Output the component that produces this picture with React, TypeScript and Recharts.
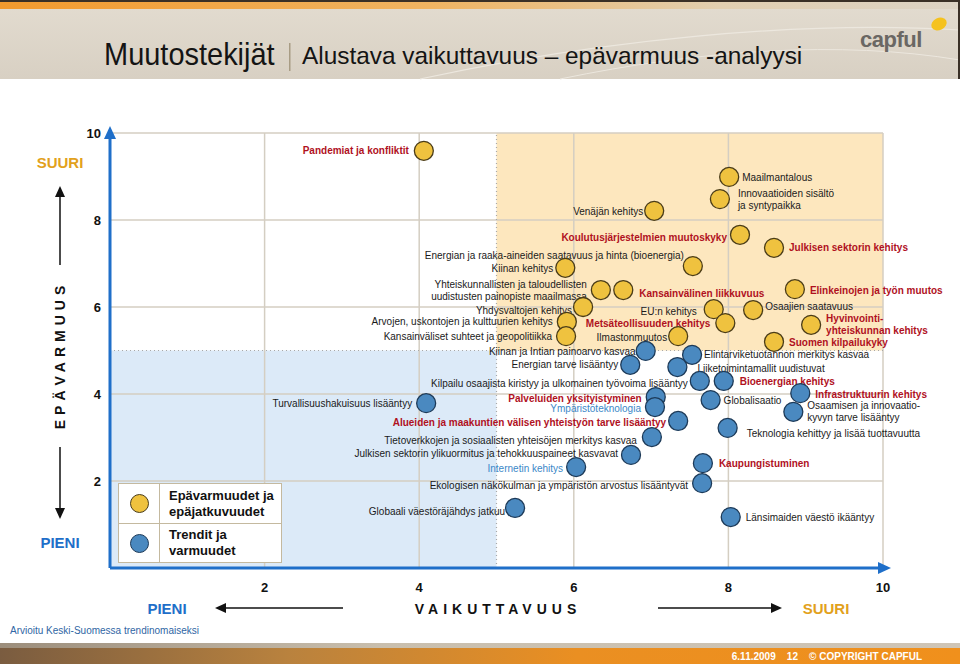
import React from 'react'
import {
	ScatterChart,
	Scatter,
	XAxis,
	YAxis,
	ReferenceArea,
	ReferenceLine,
} from 'recharts'

/**
 * Muutostekijät: vaikuttavuus (x) vs. epävarmuus (y) -analyysi
 */

// Epävarmuudet ja epäjatkuvuudet (keltaiset pallot)
const uncertaintyNames = [
	'Pandemiat ja konfliktit',
	'Maailmantalous',
	'Innovaatioiden sisältö\nja syntypaikka',
	'Venäjän kehitys',
	'Koulutusjärjestelmien muutoskyky',
	'Julkisen sektorin kehitys',
	'Energian ja raaka-aineiden saatavuus ja hinta (bioenergia)',
	'Kiinan kehitys',
	'Yhteiskunnallisten ja taloudellisten\nuudistusten painopiste maailmassa',
	'Kansainvälinen liikkuvuus',
	'Elinkeinojen ja työn muutos',
	'Yhdysvaltojen kehitys',
	'EU:n kehitys',
	'Osaajien saatavuus',
	'Arvojen, uskontojen ja kulttuurien kehitys',
	'Metsäteollisuuden kehitys',
	'Hyvinvointi-\nyhteiskunnan kehitys',
	'Kansainväliset suhteet ja geopolitiikka',
	'Ilmastonmuutos',
	'Suomen kilpailukyky',
]
const uncertaintyImpact = [
	4.06, 8.01, 7.89, 7.04, 8.15, 8.59, 7.54, 5.89, 6.35, 6.64, 8.86, 6.12, 7.81,
	8.32, 5.91, 7.96, 9.07, 5.9, 7.35, 8.59,
]
const uncertaintyLevel = [
	9.59, 8.99, 8.48, 8.21, 7.66, 7.36, 6.94, 6.9, 6.39, 6.39, 6.41, 6.0, 5.95,
	5.93, 5.66, 5.63, 5.59, 5.33, 5.33, 5.2,
]

// Trendit ja varmuudet (siniset pallot)
const trendNames = [
	'Kiinan ja Intian painoarvo kasvaa',
	'Elintarviketuotannon merkitys kasvaa',
	'Energian tarve lisääntyy',
	'Liiketoimintamallit uudistuvat',
	'Kilpailu osaajista kiristyy ja ulkomainen työvoima lisääntyy',
	'Bioenergian kehitys',
	'Turvallisuushakuisuus lisääntyy',
	'Palveluiden yksityistyminen',
	'Infrastruktuurin kehitys',
	'Ympäristöteknologia',
	'Globalisaatio',
	'Osaamisen ja innovaatio-\nkyvyn tarve lisääntyy',
	'Alueiden ja maakuntien välisen yhteistyön tarve lisääntyy',
	'Teknologia kehittyy ja lisää tuottavuutta',
	'Tietoverkkojen ja sosiaalisten yhteisöjen merkitys kasvaa',
	'Julkisen sektorin ylikuormitus ja tehokkuuspaineet kasvavat',
	'Internetin kehitys',
	'Kaupungistuminen',
	'Ekologisen näkökulman ja ympäristön arvostus lisääntyvät',
	'Globaali väestöräjähdys jatkuu',
	'Länsimaiden väestö ikääntyy',
]
const trendImpact = [
	6.93, 7.53, 6.73, 7.34, 7.63, 7.94, 4.09, 7.06, 8.93, 7.05, 7.77, 8.84, 7.35,
	7.99, 7.01, 6.74, 6.03, 7.67, 7.66, 5.24, 8.03,
]
const trendLevel = [
	4.99, 4.9, 4.67, 4.62, 4.3, 4.3, 3.79, 3.93, 4.02, 3.7, 3.86, 3.59, 3.38,
	3.22, 3.01, 2.6, 2.32, 2.41, 1.95, 1.38, 1.17,
]

const axisTicks = [2, 4, 6, 8, 10]

// Punaisella lihavoidut ja sinisellä kirjoitetut nimet
const redLabels = [
	'Pandemiat ja konfliktit',
	'Koulutusjärjestelmien muutoskyky',
	'Julkisen sektorin kehitys',
	'Kansainvälinen liikkuvuus',
	'Elinkeinojen ja työn muutos',
	'Metsäteollisuuden kehitys',
	'Hyvinvointi-\nyhteiskunnan kehitys',
	'Suomen kilpailukyky',
	'Bioenergian kehitys',
	'Palveluiden yksityistyminen',
	'Infrastruktuurin kehitys',
	'Alueiden ja maakuntien välisen yhteistyön tarve lisääntyy',
	'Kaupungistuminen',
]
const blueLabels = ['Ympäristöteknologia', 'Internetin kehitys']

// Tekstin paikka pallon suhteen: [puoli, dx, dy]
const labelPlacement: Record<string, [string, number, number]> = {
	'Pandemiat ja konfliktit': ['L', -15, 0],
	Maailmantalous: ['R', 13, 0],
	'Innovaatioiden sisältö\nja syntypaikka': ['R', 18, 0],
	'Venäjän kehitys': ['L', -11, 1],
	'Koulutusjärjestelmien muutoskyky': ['L', -13, 3],
	'Julkisen sektorin kehitys': ['R', 15, 0],
	'Energian ja raaka-aineiden saatavuus ja hinta (bioenergia)': ['L', -9, -11],
	'Kiinan kehitys': ['L', -12, 1],
	'Yhteiskunnallisten ja taloudellisten\nuudistusten painopiste maailmassa': ['L', -14, 0],
	'Kansainvälinen liikkuvuus': ['R', 16, 3],
	'Elinkeinojen ja työn muutos': ['R', 15, 1],
	'Yhdysvaltojen kehitys': ['L', -11, 3],
	'EU:n kehitys': ['L', -17, 2],
	'Osaajien saatavuus': ['R', 12, -4],
	'Arvojen, uskontojen ja kulttuurien kehitys': ['L', -14, 0],
	'Metsäteollisuuden kehitys': ['L', -15, 0],
	'Hyvinvointi-\nyhteiskunnan kehitys': ['R', 15, 0],
	'Kansainväliset suhteet ja geopolitiikka': ['L', -14, 0],
	Ilmastonmuutos: ['L', -11, 1],
	'Suomen kilpailukyky': ['R', 15, 1],
	'Kiinan ja Intian painoarvo kasvaa': ['L', -10, 0],
	'Elintarviketuotannon merkitys kasvaa': ['R', 12, 0],
	'Energian tarve lisääntyy': ['L', -12, 0],
	'Liiketoimintamallit uudistuvat': ['R', 20, 1],
	'Kilpailu osaajista kiristyy ja ulkomainen työvoima lisääntyy': ['L', -12, 2],
	'Bioenergian kehitys': ['R', 16, 0],
	'Turvallisuushakuisuus lisääntyy': ['L', -14, 0],
	'Palveluiden yksityistyminen': ['L', -14, 1],
	'Infrastruktuurin kehitys': ['R', 15, 1],
	Ympäristöteknologia: ['L', -14, 1],
	Globalisaatio: ['R', 13, 0],
	'Osaamisen ja innovaatio-\nkyvyn tarve lisääntyy': ['R', 14, 0],
	'Alueiden ja maakuntien välisen yhteistyön tarve lisääntyy': ['L', -12, 1],
	'Teknologia kehittyy ja lisää tuottavuutta': ['R', 19, 5],
	'Tietoverkkojen ja sosiaalisten yhteisöjen merkitys kasvaa': ['L', -15, 3],
	'Julkisen sektorin ylikuormitus ja tehokkuuspaineet kasvavat': ['L', -13, -2],
	'Internetin kehitys': ['L', -13, 1],
	Kaupungistuminen: ['R', 16, 0],
	'Ekologisen näkökulman ja ympäristön arvostus lisääntyvät': ['L', -14, 2],
	'Globaali väestöräjähdys jatkuu': ['L', -10, 3],
	'Länsimaiden väestö ikääntyy': ['R', 15, 0],
}

const uncertaintyData = uncertaintyNames.map((name, i) => ({
	name,
	x: uncertaintyImpact[i],
	y: uncertaintyLevel[i],
}))
const trendData = trendNames.map((name, i) => ({
	name,
	x: trendImpact[i],
	y: trendLevel[i],
}))

const BLUE_AXIS = '#1f6fc9'
const GRID = '#d4cec2'
const FONT = '"Liberation Sans", Arial, sans-serif'

const YELLOW = { fill: '#efc23f', stroke: '#4a3c18' }
const BLUE = { fill: '#4a89c0', stroke: '#1d3a58' }

function PointLabel({ cx, cy, name }: { cx: number; cy: number; name: string }) {
	const place = labelPlacement[name] || ['R', 14, 0]
	const [side, dx, dy] = place
	const isRed = redLabels.includes(name)
	const isBlue = blueLabels.includes(name)
	const lines = name.split('\n')
	const first = cy + dy - (lines.length - 1) * 6 + 3.6
	return (
		<text
			x={cx + dx}
			y={first}
			textAnchor={side === 'L' ? 'end' : 'start'}
			fontSize={10}
			fontWeight={isRed ? 'bold' : 'normal'}
			fill={isRed ? '#b0111e' : isBlue ? '#3b88c8' : '#1a1a1a'}
			style={{ fontFamily: FONT }}
		>
			{lines.map((line, i) => (
				<tspan key={i} x={cx + dx} dy={i === 0 ? 0 : 12}>
					{line}
				</tspan>
			))}
		</text>
	)
}

function makeMarker(colors: { fill: string; stroke: string }) {
	return (props: any) => {
		const { cx, cy, payload } = props
		if (cx == null || cy == null) return <g />
		return (
			<g>
				<circle cx={cx} cy={cy} r={9.5} fill={colors.fill} stroke={colors.stroke} strokeWidth={1.3} />
				<PointLabel cx={cx} cy={cy} name={payload.name} />
			</g>
		)
	}
}

function Header() {
	return (
		<svg width={960} height={80} style={{ position: 'absolute', left: 0, top: 0 }}>
			<defs>
				<linearGradient id="banner" x1="0" y1="0" x2="0" y2="1">
					<stop offset="0%" stopColor="#e3dcd0" />
					<stop offset="100%" stopColor="#d8d0c3" />
				</linearGradient>
				<linearGradient id="stripe" x1="0" y1="0" x2="1" y2="0">
					<stop offset="0%" stopColor="#f29a2e" />
					<stop offset="45%" stopColor="#f0b462" />
					<stop offset="75%" stopColor="#e2cfb0" />
					<stop offset="100%" stopColor="#dcd3c4" />
				</linearGradient>
			</defs>
			<rect x={0} y={0} width={960} height={79} fill="url(#banner)" />
			<path d="M 420 79 C 600 40, 800 20, 960 30" fill="none" stroke="#ece7de" strokeWidth={1.2} />
			<path d="M 560 79 C 700 50, 840 40, 960 60" fill="none" stroke="#ece7de" strokeWidth={1} />
			<rect x={0} y={0} width={960} height={2} fill="#3a3026" />
			<rect x={0} y={2} width={960} height={7} fill="url(#stripe)" />
			<rect x={958} y={0} width={2} height={79} fill="#3a3026" />
			<text
				x={0}
				y={0}
				transform="translate(104,65) scale(0.95,1)"
				fontSize={30.5}
				fill="#141414"
				style={{ fontFamily: FONT }}
			>
				Muutostekijät
			</text>
			<rect x={289} y={43} width={1.5} height={28} fill="#a89c84" />
			<text x={302} y={64} fontSize={24.4} fill="#141414" style={{ fontFamily: FONT }}>
				Alustava vaikuttavuus – epävarmuus -analyysi
			</text>
			<text
				x={860}
				y={47}
				fontSize={22}
				fontWeight="bold"
				fill="#6a6763"
				letterSpacing={-0.5}
				style={{ fontFamily: FONT }}
			>
				capful
			</text>
			<ellipse cx={939} cy={24} rx={8} ry={6} fill="#f5c21e" transform="rotate(-25 939 24)" />
		</svg>
	)
}

function Decorations() {
	return (
		<svg
			width={960}
			height={664}
			style={{ position: 'absolute', left: 0, top: 0, pointerEvents: 'none' }}
		>
			{/* axis arrow heads */}
			<polygon points="110,126 104,139 116,139" fill={BLUE_AXIS} />
			<polygon points="891,568 878,562 878,574" fill={BLUE_AXIS} />

			{/* vertical axis title */}
			<text x={60} y={168} textAnchor="middle" fontSize={15} fontWeight="bold" fill="#e2a11c" style={{ fontFamily: FONT }}>
				SUURI
			</text>
			<line x1={60} y1={265} x2={60} y2={196} stroke="#111" strokeWidth={1.5} />
			<polygon points="60,186 55,197 65,197" fill="#111" />
			<text
				x={0}
				y={0}
				transform="translate(65,355) rotate(-90)"
				textAnchor="middle"
				fontSize={14}
				fontWeight="bold"
				letterSpacing={5}
				fill="#111"
				style={{ fontFamily: FONT }}
			>
				EPÄVARMUUS
			</text>
			<line x1={60} y1={447} x2={60} y2={509} stroke="#111" strokeWidth={1.5} />
			<polygon points="60,519 55,508 65,508" fill="#111" />
			<text x={60} y={548} textAnchor="middle" fontSize={15} fontWeight="bold" fill={BLUE_AXIS} style={{ fontFamily: FONT }}>
				PIENI
			</text>

			{/* horizontal axis title */}
			<text x={167} y={614} textAnchor="middle" fontSize={15} fontWeight="bold" fill={BLUE_AXIS} style={{ fontFamily: FONT }}>
				PIENI
			</text>
			<line x1={343} y1={608} x2={225} y2={608} stroke="#111" strokeWidth={1.5} />
			<polygon points="215,608 226,603 226,613" fill="#111" />
			<text
				x={498}
				y={614}
				textAnchor="middle"
				fontSize={14}
				fontWeight="bold"
				letterSpacing={5}
				fill="#111"
				style={{ fontFamily: FONT }}
			>
				VAIKUTTAVUUS
			</text>
			<line x1={658} y1={608} x2={772} y2={608} stroke="#111" strokeWidth={1.5} />
			<polygon points="782,608 771,603 771,613" fill="#111" />
			<text x={826} y={614} textAnchor="middle" fontSize={15} fontWeight="bold" fill="#e2a11c" style={{ fontFamily: FONT }}>
				SUURI
			</text>

			<text x={10} y={634} fontSize={10} fill="#2f66a4" style={{ fontFamily: FONT }}>
				Arvioitu Keski-Suomessa trendinomaiseksi
			</text>
		</svg>
	)
}

function LegendBox() {
	const cell: React.CSSProperties = {
		borderRight: '1.5px solid #c4b99f',
		width: 40,
		display: 'flex',
		alignItems: 'center',
		justifyContent: 'center',
	}
	const txt: React.CSSProperties = {
		paddingLeft: 9,
		fontFamily: FONT,
		fontWeight: 'bold',
		fontSize: 13,
		lineHeight: '16px',
		color: '#111',
		display: 'flex',
		alignItems: 'center',
	}
	const dot = (c: { fill: string; stroke: string }) => (
		<div
			style={{
				width: 17,
				height: 17,
				borderRadius: '50%',
				background: c.fill,
				border: `1.3px solid ${c.stroke}`,
			}}
		/>
	)
	return (
		<div
			style={{
				position: 'absolute',
				left: 118,
				top: 483,
				width: 162,
				height: 78,
				border: '1.5px solid #c4b99f',
				background: '#fff',
				display: 'flex',
				flexDirection: 'column',
			}}
		>
			<div style={{ display: 'flex', height: 39, borderBottom: '1.5px solid #c4b99f' }}>
				<div style={cell}>{dot(YELLOW)}</div>
				<div style={txt}>
					Epävarmuudet ja
					<br />
					epäjatkuvuudet
				</div>
			</div>
			<div style={{ display: 'flex', flex: 1 }}>
				<div style={cell}>{dot(BLUE)}</div>
				<div style={txt}>
					Trendit ja
					<br />
					varmuudet
				</div>
			</div>
		</div>
	)
}

function Footer() {
	return (
		<svg width={960} height={21} style={{ position: 'absolute', left: 0, top: 643 }}>
			<defs>
				<linearGradient id="footTop" x1="0" y1="0" x2="1" y2="0">
					<stop offset="0%" stopColor="#9c8e7c" />
					<stop offset="40%" stopColor="#c9bfae" />
					<stop offset="100%" stopColor="#cfc5b6" />
				</linearGradient>
				<linearGradient id="footBand" x1="0" y1="0" x2="1" y2="0">
					<stop offset="0%" stopColor="#7a5c40" />
					<stop offset="30%" stopColor="#b9823e" />
					<stop offset="60%" stopColor="#ea8f22" />
					<stop offset="100%" stopColor="#f0901c" />
				</linearGradient>
			</defs>
			<rect x={0} y={0} width={960} height={5} fill="url(#footTop)" />
			<rect x={0} y={5} width={960} height={16} fill="url(#footBand)" />
			<text x={922} y={17} textAnchor="end" fontSize={10} fontWeight="bold" fill="#fff" style={{ fontFamily: FONT, whiteSpace: 'pre' }}>
				{'6.11.2009    12    © COPYRIGHT CAPFUL'}
			</text>
		</svg>
	)
}

export default function App() {
	return (
		<div
			style={{
				position: 'absolute',
				left: 0,
				top: 0,
				width: 960,
				height: 664,
				background: '#fff',
				fontFamily: FONT,
				overflow: 'hidden',
			}}
		>
			<div style={{ position: 'absolute', left: 0, top: 0 }}>
				<ScatterChart width={960} height={664} margin={{ top: 133, right: 77, bottom: 66, left: 80 }}>
					<ReferenceArea x1={5} x2={10} y1={5} y2={10} fill="#fde7be" fillOpacity={1} stroke="none" />
					<ReferenceArea x1={0} x2={5} y1={0} y2={5} fill="#dceaf8" fillOpacity={1} stroke="none" />
					{axisTicks.map((t) => (
						<ReferenceLine key={`vx-${t}`} x={t} stroke={GRID} strokeWidth={1.5} />
					))}
					{axisTicks.map((t) => (
						<ReferenceLine key={`hy-${t}`} y={t} stroke={GRID} strokeWidth={1.5} />
					))}
					<ReferenceLine x={5} stroke="#a8a8a8" strokeDasharray="1 3" strokeWidth={1.2} />
					<ReferenceLine y={5} stroke="#a8a8a8" strokeDasharray="1 3" strokeWidth={1.2} />
					<XAxis
						type="number"
						dataKey="x"
						domain={[0, 10]}
						ticks={axisTicks}
						height={30}
						tickLine={false}
						tickMargin={9}
						axisLine={{ stroke: BLUE_AXIS, strokeWidth: 3 }}
						tick={{ fill: '#111', fontSize: 13, fontWeight: 'bold' }}
					/>
					<YAxis
						type="number"
						dataKey="y"
						domain={[0, 10]}
						ticks={axisTicks}
						width={30}
						tickLine={false}
						tickMargin={3}
						axisLine={{ stroke: BLUE_AXIS, strokeWidth: 3 }}
						tick={{ fill: '#111', fontSize: 13, fontWeight: 'bold' }}
					/>
					<Scatter data={uncertaintyData} isAnimationActive={false} shape={makeMarker(YELLOW)} />
					<Scatter data={trendData} isAnimationActive={false} shape={makeMarker(BLUE)} />
				</ScatterChart>
			</div>
			<Header />
			<Decorations />
			<LegendBox />
			<Footer />
		</div>
	)
}
